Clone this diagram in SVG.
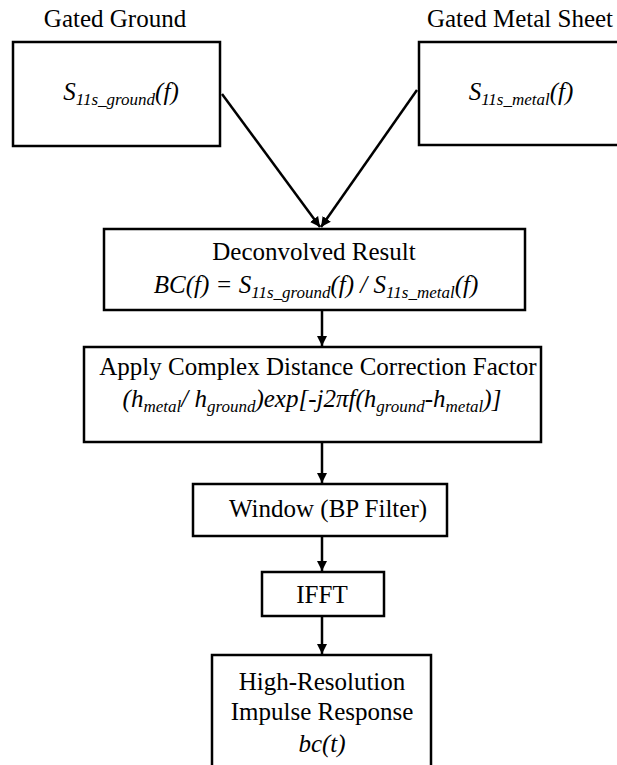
<svg xmlns="http://www.w3.org/2000/svg" width="617" height="765" viewBox="0 0 617 765">
<style>
text{font-size:25px;fill:#000;text-anchor:middle}
.i{font-style:italic}
.s{font-size:17px}
rect{fill:#fff;stroke:#000;stroke-width:2.5}
.c line{stroke:#000;stroke-width:2.5}
</style>
<defs>
<marker id="ah" viewBox="0 0 10 10" refX="10" refY="5" markerWidth="4" markerHeight="5" orient="auto" markerUnits="strokeWidth">
<path d="M0,0 L10,5 L0,10 Z" fill="#000"/>
</marker>
</defs>
<g font-family="Liberation Serif, Times New Roman, serif">
<g class="c" id="connectors">
<line x1="222" y1="94" x2="320" y2="227" marker-end="url(#ah)"/>
<line x1="417" y1="90" x2="321" y2="227" marker-end="url(#ah)"/>
<line x1="322" y1="310" x2="322" y2="346" marker-end="url(#ah)"/>
<line x1="322" y1="442" x2="322" y2="483" marker-end="url(#ah)"/>
<line x1="322" y1="536" x2="322" y2="571" marker-end="url(#ah)"/>
<line x1="322" y1="616" x2="322" y2="654" marker-end="url(#ah)"/>
</g>
<g id="ground">
<text x="115" y="27">Gated Ground</text>
<rect x="13" y="42" width="207" height="104"/>
<text class="i" x="121" y="100">S<tspan class="s" dy="5">11s_ground</tspan><tspan dy="-5">(f)</tspan></text>
</g>
<g id="metal">
<text x="520" y="27">Gated Metal Sheet</text>
<rect x="419" y="42" width="210" height="103"/>
<text class="i" x="521" y="100">S<tspan class="s" dy="5">11s_metal</tspan><tspan dy="-5">(f)</tspan></text>
</g>
<g id="deconv">
<rect x="104" y="229" width="421" height="81"/>
<text x="314" y="260" font-size="26">Deconvolved Result</text>
<text class="i" x="316" y="293">BC(f) = S<tspan class="s" dy="5">11s_ground</tspan><tspan dy="-5">(f) / S</tspan><tspan class="s" dy="5">11s_metal</tspan><tspan dy="-5">(f)</tspan></text>
</g>
<g id="correction">
<rect x="84" y="347" width="457" height="95"/>
<text x="318" y="375">Apply Complex Distance Correction Factor</text>
<text class="i" x="312" y="407">(h<tspan class="s" dy="5">metal</tspan><tspan dy="-5">/ h</tspan><tspan class="s" dy="5">ground</tspan><tspan dy="-5">)exp[-j2πf(h</tspan><tspan class="s" dy="5">ground</tspan><tspan dy="-5">-h</tspan><tspan class="s" dy="5">metal</tspan><tspan dy="-5">)]</tspan></text>
</g>
<g id="window">
<rect x="193" y="484" width="254" height="52"/>
<text x="328" y="517">Window (BP Filter)</text>
</g>
<g id="ifft">
<rect x="262" y="572" width="122" height="44"/>
<text x="322" y="603">IFFT</text>
</g>
<g id="impulse">
<rect x="212" y="655" width="219" height="120"/>
<text x="322" y="690">High-Resolution</text>
<text x="322" y="720">Impulse Response</text>
<text class="i" x="322" y="752">bc(t)</text>
</g>
</g>
</svg>
